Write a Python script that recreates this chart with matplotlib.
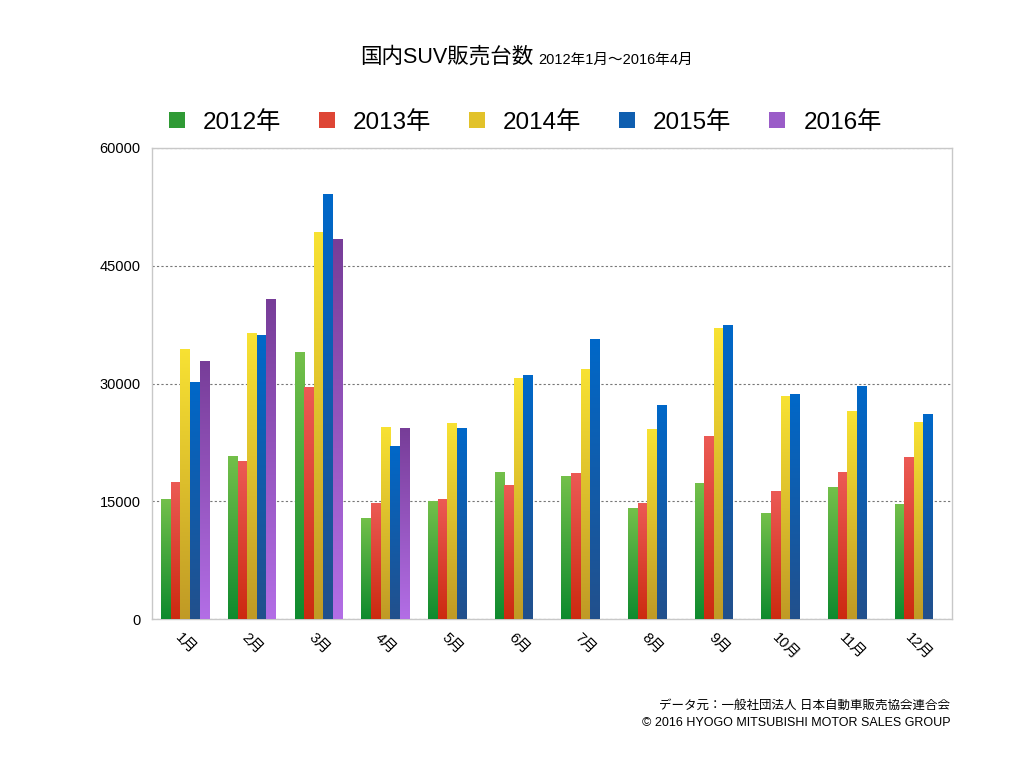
import matplotlib.pyplot as plt
import numpy as np
from matplotlib.colors import LinearSegmentedColormap
from matplotlib.patches import Patch

plt.rcParams['font.family'] = ['Liberation Sans', 'Noto Sans CJK JP']

# データ
months = ['1月', '2月', '3月', '4月', '5月', '6月', '7月', '8月', '9月', '10月', '11月', '12月']
years = ['2012年', '2013年', '2014年', '2015年', '2016年']
sales_2012 = [15300, 20800, 34000, 12900, 15000, 18700, 18200, 14100, 17300, 13500, 16800, 14700]
sales_2013 = [17500, 20100, 29600, 14800, 15300, 17100, 18600, 14800, 23300, 16300, 18700, 20600]
sales_2014 = [34400, 36400, 49300, 24500, 25000, 30700, 31900, 24200, 37100, 28400, 26500, 25100]
sales_2015 = [30200, 36200, 54200, 22100, 24300, 31100, 35700, 27300, 37400, 28700, 29700, 26100]
sales_2016 = [32900, 40800, 48400, 24300]

# 色 (上, 下)
grad_colors = [
    ('#74c04a', '#0e8a2e'),
    ('#ec5a55', '#cc2a10'),
    ('#f8e233', '#c09a25'),
    ('#0068c9', '#22508c'),
    ('#773d98', '#b36ee6'),
]
legend_colors = ['#2f9a35', '#de4535', '#e2c22a', '#0f5fb0', '#9a5cc8']

fig = plt.figure(figsize=(10.24, 7.68), dpi=100)
ax = fig.add_axes([0.1484, 0.194, 0.7813, 0.6133])

series = [sales_2012, sales_2013, sales_2014, sales_2015, sales_2016]
bar_width = 0.144
grad = np.linspace(0, 1, 256).reshape(-1, 1)

for i, vals in enumerate(series):
    x = np.arange(len(vals)) + (i - 2) * bar_width
    cmap = LinearSegmentedColormap.from_list('g%d' % i, [grad_colors[i][1], grad_colors[i][0]])
    bars = ax.bar(x, vals, width=bar_width, color='none', linewidth=0, zorder=3)
    for b in bars:
        x0, y0 = b.get_x(), b.get_y()
        im = ax.imshow(grad, extent=[x0, x0 + b.get_width(), y0, y0 + b.get_height()],
                       origin='lower', aspect='auto', cmap=cmap, zorder=3)
        im.set_clip_path(b)

ax.set_xlim(-0.5, 11.5)
ax.set_ylim(0, 60000)
ax.set_yticks([0, 15000, 30000, 45000, 60000])
ax.set_xticks(np.arange(12))
ax.set_xticklabels(months, rotation=-45, ha='center', va='top')
ax.tick_params(length=0, labelsize=10.5, pad=8)
ax.grid(axis='y', color='#777777', linestyle=(0, (2, 2)), linewidth=0.8, zorder=1)
for s in ax.spines.values():
    s.set_color('#c8c8c8')
    s.set_linewidth(1)

# 凡例
handles = [Patch(facecolor=c, edgecolor='none') for c in legend_colors]
fig.legend(handles, years, loc='center', bbox_to_anchor=(0.513, 0.841), ncol=5,
           frameon=False, fontsize=17.5, handlelength=0.65, handleheight=0.65,
           handletextpad=0.75, columnspacing=1.55)

# タイトル
fig.text(0.521, 0.926, '国内SUV販売台数', ha='right', va='center', fontsize=15.5)
fig.text(0.526, 0.922, '2012年1月〜2016年4月', ha='left', va='center', fontsize=10.5)

# 出典
fig.text(0.928, 0.081, 'データ元：一般社団法人 日本自動車販売協会連合会', ha='right', va='center', fontsize=9)
fig.text(0.928, 0.058, '© 2016 HYOGO MITSUBISHI MOTOR SALES GROUP', ha='right', va='center', fontsize=9)

fig.savefig('out.png', dpi=100)
